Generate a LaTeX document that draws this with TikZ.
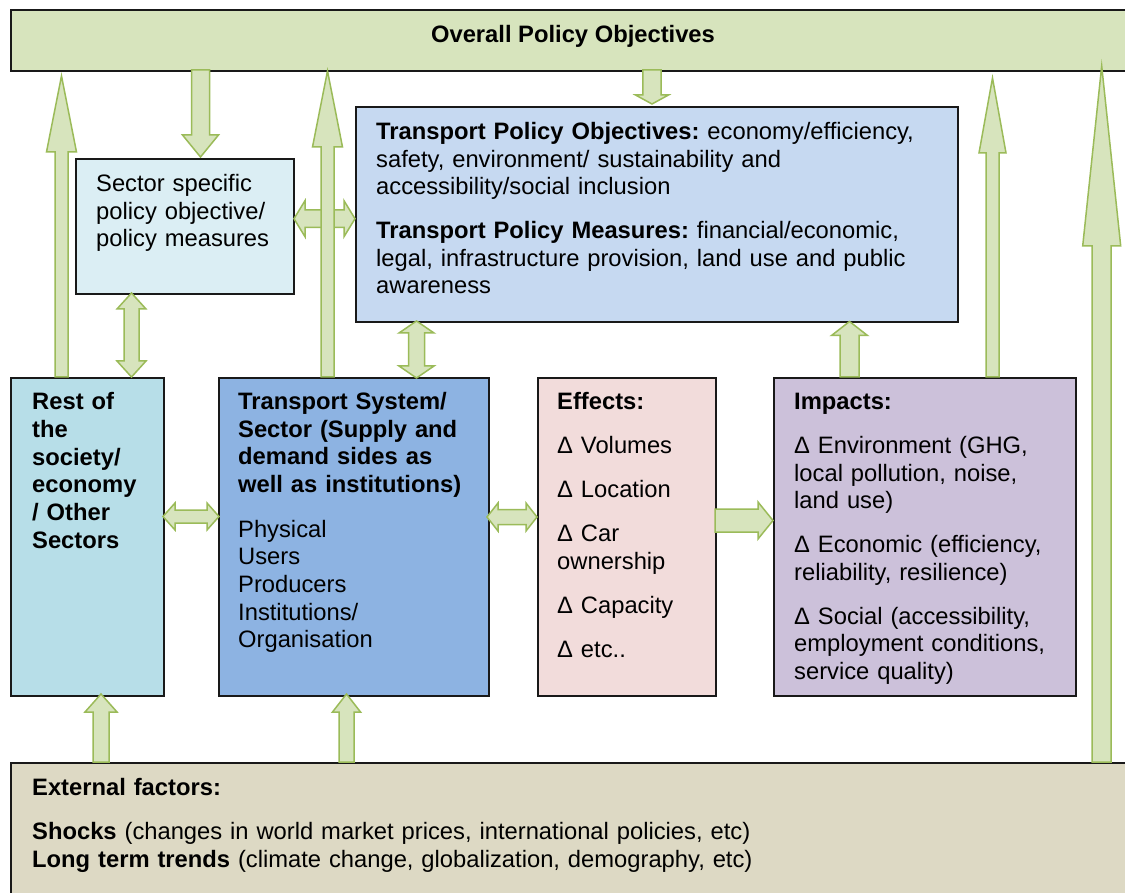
\documentclass[tikz,border=0pt]{standalone}
\usepackage{fontspec}
\setmainfont{Liberation Sans}
\frenchspacing
\definecolor{arrfill}{HTML}{D7E4BD}
\definecolor{arrline}{HTML}{9BBB59}
\definecolor{topfill}{HTML}{D7E4BD}
\definecolor{secfill}{HTML}{DBEEF4}
\definecolor{restfill}{HTML}{B7DEE8}
\definecolor{tpfill}{HTML}{C6D9F1}
\definecolor{tsfill}{HTML}{8DB3E2}
\definecolor{efffill}{HTML}{F2DCDB}
\definecolor{impfill}{HTML}{CCC1DA}
\definecolor{extfill}{HTML}{DDD9C4}
\tikzset{
  box/.style={draw=black!90, line width=1.6pt, inner sep=0pt, anchor=north west},
  barrow/.style={draw=arrline, fill=arrfill, line width=1.5pt, line join=miter},
  txt/.style={anchor=base west, inner sep=0pt, text width=#1, align=left,
    font=\fontsize{23.75}{27.6}\selectfont\frenchspacing},
  txt/.default=600
}
% vertical up arrow: x, y tail, y tip, shaft half, head half, head length
\newcommand\arrUp[6]{\draw[barrow] ({#1-#4},#2) -- ({#1-#4},{#3+#6}) -- ({#1-#5},{#3+#6}) -- (#1,#3) -- ({#1+#5},{#3+#6}) -- ({#1+#4},{#3+#6}) -- ({#1+#4},#2) -- cycle;}
\newcommand\arrDown[6]{\draw[barrow] ({#1-#4},#2) -- ({#1-#4},{#3-#6}) -- ({#1-#5},{#3-#6}) -- (#1,#3) -- ({#1+#5},{#3-#6}) -- ({#1+#4},{#3-#6}) -- ({#1+#4},#2) -- cycle;}
% vertical double: x, y top tip, y bottom tip, sh, hh, hl
\newcommand\arrUD[6]{\draw[barrow] (#1,#2) -- ({#1+#5},{#2+#6}) -- ({#1+#4},{#2+#6}) -- ({#1+#4},{#3-#6}) -- ({#1+#5},{#3-#6}) -- (#1,#3) -- ({#1-#5},{#3-#6}) -- ({#1-#4},{#3-#6}) -- ({#1-#4},{#2+#6}) -- ({#1-#5},{#2+#6}) -- cycle;}
% horizontal double: y, x left tip, x right tip, sh, hh, hl
\newcommand\arrLR[6]{\draw[barrow] (#2,#1) -- ({#2+#6},{#1-#5}) -- ({#2+#6},{#1-#4}) -- ({#3-#6},{#1-#4}) -- ({#3-#6},{#1-#5}) -- (#3,#1) -- ({#3-#6},{#1+#5}) -- ({#3-#6},{#1+#4}) -- ({#2+#6},{#1+#4}) -- ({#2+#6},{#1+#5}) -- cycle;}
% horizontal right: y, x tail, x tip, sh, hh, hl
\newcommand\arrRight[6]{\draw[barrow] (#2,{#1-#4}) -- ({#3-#6},{#1-#4}) -- ({#3-#6},{#1-#5}) -- (#3,#1) -- ({#3-#6},{#1+#5}) -- ({#3-#6},{#1+#4}) -- (#2,{#1+#4}) -- cycle;}
\begin{document}
\begin{tikzpicture}[x=1pt,y=-1pt]
\useasboundingbox (0,0) rectangle (1125,893);
\clip (0,0) rectangle (1125,893);
\fill[white] (0,0) rectangle (1125,893);
% boxes
\node[box, fill=topfill, minimum width=1130pt, minimum height=61pt] (top) at (10,9) {};
\node[box, fill=secfill, minimum width=218pt, minimum height=135pt] (sector) at (75,158) {};
\node[box, fill=tpfill, minimum width=602pt, minimum height=215pt] (tp) at (355,106) {};
\node[box, fill=restfill, minimum width=153pt, minimum height=318pt] (rest) at (10,377) {};
\node[box, fill=tsfill, minimum width=270pt, minimum height=318pt] (ts) at (218,377) {};
\node[box, fill=efffill, minimum width=178pt, minimum height=318pt] (eff) at (537,377) {};
\node[box, fill=impfill, minimum width=302pt, minimum height=318pt] (imp) at (773,377) {};
\node[box, fill=extfill, minimum width=1130pt, minimum height=140pt] (ext) at (10,762) {};
% texts
\node[anchor=base, inner sep=0pt, font=\fontsize{23.75}{27.6}\selectfont\bfseries] (ttop) at (573,42.5) {Overall Policy Objectives};
\node[txt=200] (tsec) at (96,191.5) {Sector specific\\policy objective/\\policy measures};
\node[txt] (ttp) at (376,139.5) {\textbf{Transport Policy Objectives:} economy/efficiency,\\safety, environment/ sustainability and\\accessibility/social inclusion\\[16.4pt]\textbf{Transport Policy Measures:} financial/economic,\\legal, infrastructure provision, land use and public\\awareness};
\node[txt=200, font=\fontsize{23.75}{27.8}\selectfont\bfseries] (trest) at (32,409.5) {Rest of\\the\\society/\\economy\\/ Other\\Sectors};
\node[txt=300] (tts) at (238,409.5) {\textbf{Transport System/}\\\textbf{Sector (Supply and}\\\textbf{demand sides as}\\\textbf{well as institutions)}\\[17.4pt]Physical\\Users\\Producers\\Institutions/\\Organisation};
\node[txt=200] (teff) at (557,409.5) {\textbf{Effects:}\\[16.4pt]Δ Volumes\\[16.4pt]Δ Location\\[16.4pt]Δ Car\\ownership\\[16.4pt]Δ Capacity\\[16.4pt]Δ etc..};
\node[txt=300] (timp) at (794,409.5) {\textbf{Impacts:}\\[16.4pt]Δ Environment (GHG,\\local pollution, noise,\\land use)\\[16.4pt]Δ Economic (efficiency,\\reliability, resilience)\\[16.4pt]Δ Social (accessibility,\\employment conditions,\\service quality)};
\node[txt=1000] (text) at (32,795.5) {\textbf{External factors:}\\[16.4pt]\textbf{Shocks} (changes in world market prices, international policies, etc)\\\textbf{Long term trends} (climate change, globalization, demography, etc)};
% arrows
\arrDown{200.5}{70}{157}{9}{18}{22}
\arrDown{652}{70}{104}{9.2}{16.5}{9}
\arrLR{218.7}{294}{355}{8.8}{18}{11}
\arrUD{131.5}{293}{377}{7.5}{14.5}{16}
\arrUD{416.5}{321}{378}{8}{17.5}{12}
\arrUp{61.5}{377}{76}{6.5}{15}{76}
\arrUp{327.5}{377}{71}{6.5}{15}{76}
\arrUp{849.5}{377}{321.5}{9.5}{18}{14}
\arrUp{992.5}{377}{78}{6.5}{13.5}{75}
\arrUp{1101.7}{762}{66}{9.5}{19}{180}
\arrLR{516.5}{163}{219}{6.5}{13.5}{12}
\arrLR{517}{487}{537}{7.5}{14}{11}
\arrRight{520.5}{715}{773}{11.5}{18.5}{15}
\arrUp{101}{762}{694}{8}{16}{18}
\arrUp{346.5}{762}{694}{7.5}{14}{18}
\end{tikzpicture}
\end{document}
